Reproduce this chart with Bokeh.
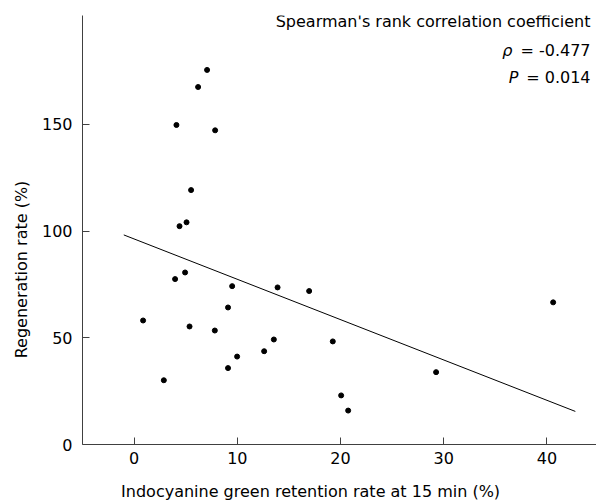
from bokeh.plotting import figure
from bokeh.models import Label, Range1d, FixedTicker
from bokeh.embed import file_html
from bokeh.resources import INLINE

# Data
icg_retention = [7.07, 6.2, 4.1, 7.85, 5.52, 5.08, 4.4, 4.94, 3.97, 9.5, 13.9, 9.1, 0.87,
                 5.37, 7.82, 13.54, 12.6, 9.98, 9.1, 2.88, 16.96, 40.6, 19.25, 29.26, 20.06, 20.74]
regeneration = [175.5, 167.5, 149.7, 147.2, 119.2, 104.1, 102.3, 80.6, 77.5, 74.2, 73.6, 64.2, 58.1,
                 55.3, 53.4, 49.2, 43.7, 41.2, 35.8, 30.1, 71.9, 66.6, 48.3, 33.9, 23.0, 15.9]
fit_x = [-1.0, 42.75]
fit_y = [98.2, 15.5]
x_ticks = [0, 10, 20, 30, 40]
y_ticks = [0, 50, 100, 150]

FONT = "DejaVu Sans"
FS = "16px"

p = figure(width=596, height=501, output_backend="svg", toolbar_location=None,
           x_range=Range1d(-5, 44.8), y_range=Range1d(0, 201),
           min_border_left=82, min_border_right=0, min_border_top=15, min_border_bottom=57)
p.outline_line_color = None
p.xgrid.visible = False
p.ygrid.visible = False
p.background_fill_color = "white"
p.border_fill_color = "white"

for ax in (p.xaxis[0], p.yaxis[0]):
    ax.axis_line_color = "#404040"
    ax.major_tick_line_color = "#404040"
    ax.minor_tick_line_color = None
    ax.major_tick_in = 7
    ax.major_tick_out = 0
    ax.major_label_text_font = FONT
    ax.major_label_text_font_size = FS
    ax.major_label_text_color = "black"
    ax.axis_label = None

p.xaxis[0].ticker = FixedTicker(ticks=x_ticks)
p.yaxis[0].ticker = FixedTicker(ticks=y_ticks)
p.xaxis[0].major_label_standoff = 7
p.yaxis[0].major_label_standoff = 10

p.line(fit_x, fit_y, line_color="black", line_width=1)
p.scatter(icg_retention, regeneration, size=5, color="black")

# Axis titles, placed in the side panels so they are not clipped to the frame
p.add_layout(Label(x=17.1, y=0, y_offset=-46.5, text="Indocyanine green retention rate at 15 min (%)",
                   text_font=FONT, text_font_size=FS, text_align="center",
                   text_baseline="alphabetic", text_color="black"), "below")
p.add_layout(Label(x=-5, x_offset=-61, y=82, angle=1.5707963, text="Regeneration rate (%)",
                   text_font=FONT, text_font_size=FS, text_align="center",
                   text_baseline="alphabetic", text_color="black"), "left")

# Statistics annotation
xr = 44.22
dy = 6.5
p.add_layout(Label(x=xr, y=195.1, y_offset=dy, text="Spearman's rank correlation coefficient",
                   text_font=FONT, text_font_size=FS, text_align="right",
                   text_baseline="alphabetic", text_color="black"))
p.add_layout(Label(x=xr, y=181.6, y_offset=dy, text="= -0.477",
                   text_font=FONT, text_font_size=FS, text_align="right",
                   text_baseline="alphabetic", text_color="black"))
p.add_layout(Label(x=xr, y=181.6, y_offset=dy, x_offset=-78, text="ρ",
                   text_font=FONT, text_font_size=FS, text_font_style="italic", text_align="right",
                   text_baseline="alphabetic", text_color="black"))
p.add_layout(Label(x=xr, y=168.8, y_offset=dy, text="= 0.014",
                   text_font=FONT, text_font_size=FS, text_align="right",
                   text_baseline="alphabetic", text_color="black"))
p.add_layout(Label(x=xr, y=168.8, y_offset=dy, x_offset=-72, text="P",
                   text_font=FONT, text_font_size=FS, text_font_style="italic", text_align="right",
                   text_baseline="alphabetic", text_color="black"))

open("out.html", "w").write(file_html(p, INLINE))
